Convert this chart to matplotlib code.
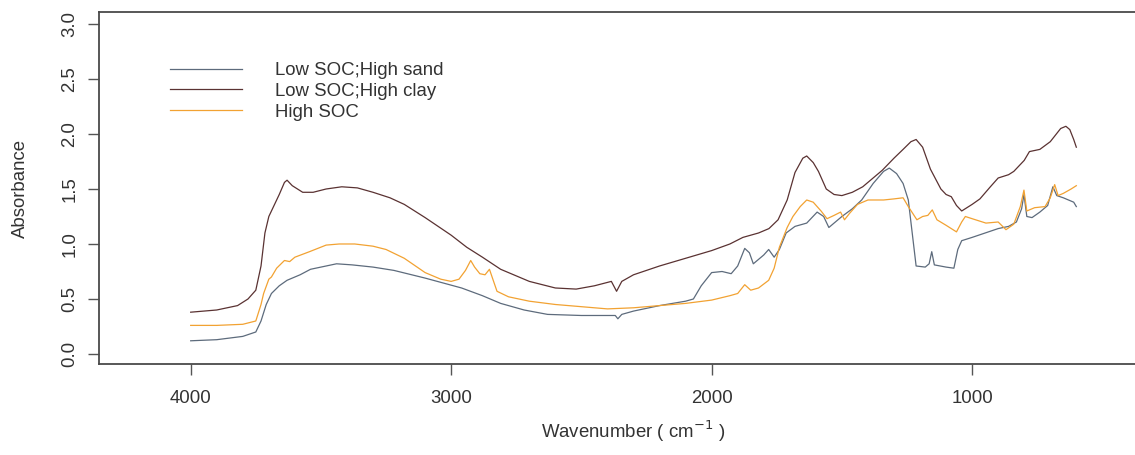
import matplotlib.pyplot as plt

plt.rcParams['font.family'] = ['Liberation Sans', 'DejaVu Sans']

# Spectra (wavenumber cm-1, absorbance)
wn_sand = [4000, 3900, 3800, 3750, 3730, 3710, 3690, 3660, 3630, 3580, 3540, 3480,
           3440, 3380, 3300, 3220, 3100, 2960, 2880, 2810, 2720, 2630, 2500, 2400,
           2370, 2360, 2345, 2300, 2200, 2100, 2070, 2040, 2000, 1960, 1925, 1900,
           1873, 1855, 1840, 1800, 1781, 1760, 1740, 1714, 1680, 1635, 1595, 1570,
           1550, 1525, 1500, 1460, 1424, 1380, 1340, 1318, 1290, 1265, 1245, 1225,
           1215, 1180, 1165, 1155, 1145, 1100, 1070, 1055, 1040, 1000, 950, 900,
           860, 830, 810, 801, 790, 770, 740, 710, 690, 675, 650, 630, 610, 600]
abs_sand = [0.12, 0.13, 0.16, 0.20, 0.30, 0.45, 0.55, 0.62, 0.67, 0.72, 0.77, 0.80,
            0.82, 0.81, 0.79, 0.76, 0.69, 0.60, 0.53, 0.46, 0.40, 0.36, 0.35, 0.35,
            0.35, 0.32, 0.36, 0.39, 0.44, 0.48, 0.50, 0.62, 0.74, 0.75, 0.73, 0.80,
            0.96, 0.92, 0.82, 0.90, 0.95, 0.88, 0.95, 1.10, 1.16, 1.19, 1.29, 1.25,
            1.15, 1.20, 1.25, 1.32, 1.40, 1.55, 1.66, 1.69, 1.64, 1.55, 1.40, 1.00,
            0.80, 0.79, 0.82, 0.93, 0.81, 0.79, 0.78, 0.95, 1.03, 1.06, 1.10, 1.14,
            1.16, 1.20, 1.32, 1.45, 1.25, 1.24, 1.29, 1.35, 1.52, 1.44, 1.42, 1.40,
            1.38, 1.34]

wn_clay = [4000, 3900, 3820, 3780, 3750, 3730, 3715, 3700, 3680, 3660, 3640, 3630,
           3610, 3570, 3530, 3480, 3420, 3360, 3300, 3235, 3180, 3100, 3000, 2940,
           2880, 2810, 2700, 2600, 2520, 2450, 2385, 2365, 2345, 2300, 2200, 2100,
           2000, 1930, 1880, 1820, 1780, 1745, 1710, 1680, 1650, 1635, 1610, 1590,
           1560, 1530, 1500, 1460, 1420, 1345, 1300, 1265, 1235, 1215, 1190, 1160,
           1120, 1100, 1080, 1060, 1040, 1000, 970, 930, 900, 860, 840, 800, 780,
           740, 700, 680, 660, 640, 625, 610, 600]
abs_clay = [0.38, 0.40, 0.44, 0.50, 0.58, 0.80, 1.10, 1.25, 1.35, 1.45, 1.56, 1.58,
            1.53, 1.47, 1.47, 1.50, 1.52, 1.51, 1.47, 1.42, 1.36, 1.24, 1.08, 0.97,
            0.88, 0.77, 0.66, 0.60, 0.59, 0.62, 0.66, 0.57, 0.66, 0.72, 0.80, 0.87,
            0.94, 1.00, 1.06, 1.10, 1.14, 1.22, 1.40, 1.65, 1.78, 1.80, 1.74, 1.66,
            1.50, 1.45, 1.44, 1.47, 1.52, 1.67, 1.78, 1.86, 1.93, 1.95, 1.88, 1.68,
            1.50, 1.45, 1.43, 1.35, 1.30, 1.36, 1.41, 1.52, 1.60, 1.63, 1.66, 1.76,
            1.84, 1.86, 1.93, 1.99, 2.05, 2.07, 2.04, 1.95, 1.88]

wn_soc = [4000, 3900, 3800, 3750, 3730, 3720, 3700, 3690, 3670, 3640, 3620, 3600,
          3544, 3480, 3430, 3370, 3300, 3250, 3180, 3100, 3040, 3000, 2970, 2945,
          2925, 2910, 2890, 2870, 2853, 2840, 2824, 2780, 2700, 2600, 2500, 2400,
          2300, 2200, 2100, 2000, 1930, 1900, 1873, 1850, 1820, 1781, 1760, 1740,
          1710, 1688, 1660, 1635, 1610, 1580, 1557, 1530, 1505, 1490, 1470, 1440,
          1400, 1340, 1300, 1265, 1245, 1212, 1190, 1170, 1153, 1135, 1100, 1060,
          1040, 1026, 1000, 947, 900, 870, 840, 815, 801, 790, 760, 720, 700, 683,
          670, 650, 620, 600]
abs_soc = [0.26, 0.26, 0.27, 0.30, 0.45, 0.55, 0.68, 0.70, 0.78, 0.85, 0.84, 0.88,
           0.93, 0.99, 1.00, 1.00, 0.98, 0.95, 0.87, 0.74, 0.68, 0.66, 0.68, 0.76,
           0.85, 0.79, 0.73, 0.72, 0.77, 0.68, 0.57, 0.52, 0.48, 0.45, 0.43, 0.41,
           0.42, 0.44, 0.46, 0.49, 0.53, 0.55, 0.63, 0.58, 0.60, 0.67, 0.78, 0.97,
           1.15, 1.25, 1.34, 1.40, 1.38, 1.30, 1.23, 1.26, 1.29, 1.22, 1.28, 1.36,
           1.40, 1.40, 1.41, 1.42, 1.34, 1.22, 1.25, 1.26, 1.31, 1.22, 1.17, 1.11,
           1.20, 1.25, 1.23, 1.19, 1.20, 1.13, 1.18, 1.34, 1.49, 1.30, 1.33, 1.34,
           1.42, 1.54, 1.44, 1.46, 1.50, 1.53]

labels = ['Low SOC;High sand', 'Low SOC;High clay', 'High SOC']
colors = ['#5d6b7c', '#5a3232', '#f2a232']

fs = 13.4
fig = plt.figure(figsize=(11.35, 4.55), dpi=100)
ax = fig.add_axes([99 / 1135, 0.2, 1069 / 1135, 352 / 455])

ax.plot(wn_sand, abs_sand, color=colors[0], lw=0.9, label=labels[0])
ax.plot(wn_clay, abs_clay, color=colors[1], lw=0.9, label=labels[1])
ax.plot(wn_soc, abs_soc, color=colors[2], lw=0.9, label=labels[2])

ax.set_xlim(4352, 248)
ax.set_ylim(-0.091, 3.109)
ax.set_xticks([4000, 3000, 2000, 1000])
ax.set_yticks([0.0, 0.5, 1.0, 1.5, 2.0, 2.5, 3.0])
ax.set_yticklabels(['0.0', '0.5', '1.0', '1.5', '2.0', '2.5', '3.0'])

for sp in ax.spines.values():
    sp.set_color('#4a4a4a')
    sp.set_linewidth(1.3)
ax.tick_params(axis='both', colors='#555555', labelcolor='#333333',
               labelsize=fs, length=8, width=1.0)
ax.tick_params(axis='x', pad=11)
ax.tick_params(axis='y', pad=7, labelrotation=90)
for t in ax.get_yticklabels():
    t.set_va('center')

ax.set_xlabel('Wavenumber ( cm$^{-1}$ )', fontsize=fs, color='#333333', va='center')
ax.xaxis.set_label_coords(0.5, -0.19)
ax.set_ylabel('Absorbance', fontsize=fs, color='#333333', va='center')
ax.yaxis.set_label_coords(-0.073, 0.5)

ax.legend(loc='upper left', bbox_to_anchor=(170 / 1135, 1 - 62 / 455),
          bbox_transform=fig.transFigure, frameon=False, borderpad=0,
          borderaxespad=0, handlelength=3.87, handletextpad=1.77,
          labelspacing=0.21, fontsize=fs, labelcolor='#333333')

plt.savefig('out.png', dpi=100)
